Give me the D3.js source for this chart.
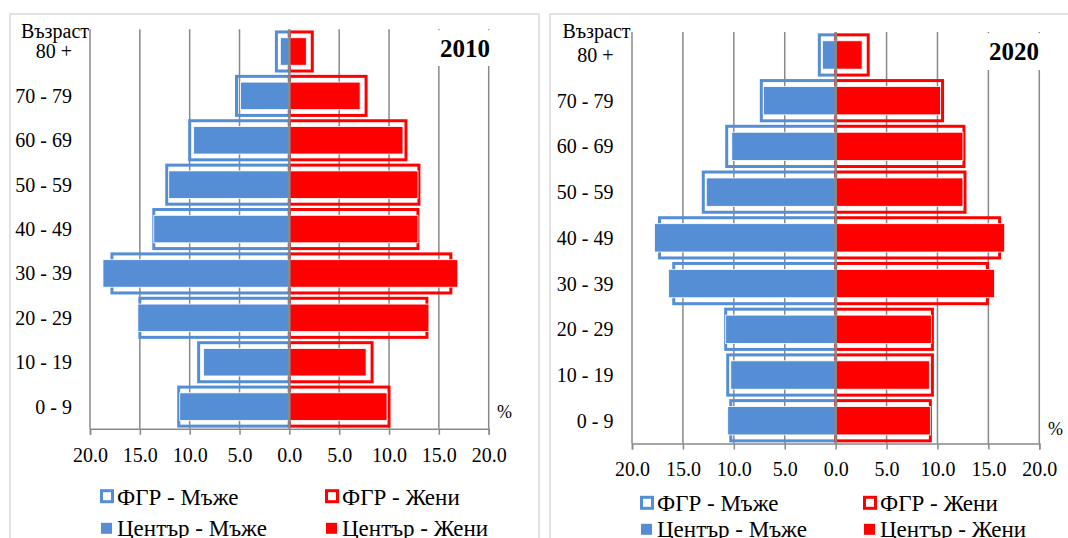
<!DOCTYPE html>
<html>
<head>
<meta charset="utf-8">
<script src="https://cdn.jsdelivr.net/npm/d3@7"></script>
<style>
  body { margin: 0; background: #fff; }
  svg { font-family: "Liberation Serif", "Times New Roman", serif; }
</style>
</head>
<body>
<svg id="chart" width="1068" height="538"></svg>
<script>
// age groups, bottom to top
const ages = ['0 - 9', '10 - 19', '20 - 29', '30 - 39', '40 - 49', '50 - 59', '60 - 69', '70 - 79', '80 +'];
const ticks = [-20, -15, -10, -5, 0, 5, 10, 15, 20];

const frgMen2010 = [11.1, 9.1, 15.0, 17.8, 13.6, 12.3, 10.0, 5.3, 1.3];
const frgWomen2010 = [10.0, 8.3, 13.8, 16.2, 12.9, 13.0, 11.7, 7.7, 2.3];
const centerMen2010 = [11.0, 8.6, 15.2, 18.7, 13.6, 12.1, 9.6, 4.9, 0.9];
const centerWomen2010 = [9.8, 7.7, 14.0, 16.9, 12.9, 12.9, 11.4, 7.1, 1.7];

const frgMen2020 = [10.3, 10.6, 10.8, 15.9, 17.3, 13.0, 10.7, 7.3, 1.6];
const frgWomen2020 = [9.3, 9.5, 9.5, 14.9, 16.1, 12.7, 12.6, 10.5, 3.2];
const centerMen2020 = [10.6, 10.3, 10.8, 16.4, 17.8, 12.7, 10.2, 7.1, 1.3];
const centerWomen2020 = [9.3, 9.2, 9.4, 15.6, 16.6, 12.5, 12.5, 10.3, 2.6];

const legendLabels = ['ФГР - Мъже', 'ФГР - Жени', 'Център - Мъже', 'Център - Жени'];

const blue = '#558ed5';
const red = '#ff0000';
const grid = '#898989';

const svg = d3.select('#chart');

function pyramid (opts) {
  const g = svg.append('g');

  // panel frame
  g.append('rect')
    .attr('x', opts.frame[0]).attr('y', 14)
    .attr('width', opts.frame[1] - opts.frame[0]).attr('height', 540)
    .attr('fill', '#fff').attr('stroke', '#d9d9d9').attr('stroke-width', 1.5);

  const x = d3.scaleLinear().domain([-20, 20]).range([opts.x0, opts.x1]);
  const y = d3.scaleBand().domain(ages).range([opts.y1, opts.y0]);
  const bw = y.bandwidth();

  // gridlines
  g.selectAll('.grid')
      .data(ticks.filter(t => t !== 0))
    .enter().append('line')
      .attr('x1', d => x(d)).attr('x2', d => x(d))
      .attr('y1', opts.y0).attr('y2', opts.y1)
      .attr('stroke', grid).attr('stroke-width', 1.5);

  const rows = ages.map((a, i) => ({
    age: a,
    frgM: opts.frgMen[i], frgW: opts.frgWomen[i],
    cM: opts.centerMen[i], cW: opts.centerWomen[i]
  }));

  // ФГР outlines
  const oh = bw * 0.88;
  g.selectAll('.frgM').data(rows).enter().append('rect')
    .attr('x', d => x(-d.frgM)).attr('width', d => x(0) - x(-d.frgM))
    .attr('y', d => y(d.age) + (bw - oh) / 2).attr('height', oh)
    .attr('fill', 'none').attr('stroke', blue).attr('stroke-width', 3);
  g.selectAll('.frgW').data(rows).enter().append('rect')
    .attr('x', x(0)).attr('width', d => x(d.frgW) - x(0))
    .attr('y', d => y(d.age) + (bw - oh) / 2).attr('height', oh)
    .attr('fill', 'none').attr('stroke', red).attr('stroke-width', 3);

  // Център filled bars
  const fh = bw * 0.62;
  g.selectAll('.cM').data(rows).enter().append('rect')
    .attr('x', d => x(-d.cM)).attr('width', d => x(0) - x(-d.cM))
    .attr('y', d => y(d.age) + (bw - fh) / 2).attr('height', fh)
    .attr('fill', blue).attr('stroke', '#fff').attr('stroke-width', 0.8);
  g.selectAll('.cW').data(rows).enter().append('rect')
    .attr('x', x(0)).attr('width', d => x(d.cW) - x(0))
    .attr('y', d => y(d.age) + (bw - fh) / 2).attr('height', fh)
    .attr('fill', red).attr('stroke', '#fff').attr('stroke-width', 0.8);

  // centre axis
  g.append('line')
    .attr('x1', x(0)).attr('x2', x(0)).attr('y1', opts.y0).attr('y2', opts.y1)
    .attr('stroke', grid).attr('stroke-width', 2.5);

  // bottom axis
  const axis = g.append('g')
    .attr('transform', `translate(0,${opts.y1})`)
    .call(d3.axisBottom(x).tickValues(ticks).tickSize(6)
      .tickFormat(d => Math.abs(d).toFixed(1)));
  axis.select('.domain').attr('stroke', grid).attr('stroke-width', 1.5);
  axis.selectAll('.tick line').attr('stroke', grid).attr('stroke-width', 1.5);
  axis.selectAll('.tick text')
    .attr('y', opts.tickY - opts.y1).attr('dy', 0)
    .attr('fill', '#000').style('font-size', '20px')
    .style('font-family', '"Liberation Serif", serif');

  // age labels
  g.selectAll('.age').data(ages).enter().append('text')
    .attr('x', opts.labelX).attr('y', d => y(d) + bw / 2 + 7)
    .attr('text-anchor', 'end').style('font-size', '20px')
    .text(d => d);

  g.append('text')
    .attr('x', opts.labelX + 17).attr('y', 38)
    .attr('text-anchor', 'end').style('font-size', '20px')
    .text('Възраст');

  // year title on white box
  g.append('rect')
    .attr('x', x(14.5)).attr('y', opts.y0 + 1)
    .attr('width', x(20) - x(14.5) + 4).attr('height', opts.titleBottom - opts.y0 - 1)
    .attr('fill', '#fff');
  g.append('text')
    .attr('x', opts.titleX).attr('y', opts.titleY)
    .attr('text-anchor', 'middle')
    .style('font-size', '25px').style('font-weight', 'bold')
    .text(opts.year);

  g.append('text')
    .attr('x', opts.pctX).attr('y', opts.pctY)
    .style('font-size', '18px')
    .text('%');

  // legend
  const lx = opts.legendX;
  const items = [
    {label: legendLabels[0], color: blue, filled: false, x: lx[0], y: opts.legendY[0]},
    {label: legendLabels[1], color: red, filled: false, x: lx[1], y: opts.legendY[0]},
    {label: legendLabels[2], color: blue, filled: true, x: lx[0], y: opts.legendY[1]},
    {label: legendLabels[3], color: red, filled: true, x: lx[1], y: opts.legendY[1]}
  ];
  const li = g.selectAll('.leg').data(items).enter().append('g')
    .attr('transform', d => `translate(${d.x},${d.y})`);
  li.append('rect')
    .attr('x', d => d.filled ? 1 : 1.5).attr('y', d => d.filled ? -5.5 : -6)
    .attr('width', 11).attr('height', 11)
    .attr('fill', d => d.filled ? d.color : '#fff')
    .attr('stroke', d => d.filled ? 'none' : d.color)
    .attr('stroke-width', 3);
  li.append('text')
    .attr('x', 17).attr('y', 8)
    .style('font-size', '23px')
    .text(d => d.label);
}

pyramid({
  year: '2010',
  frame: [10, 539],
  x0: 90, x1: 488.7, y0: 29.3, y1: 428.8,
  frgMen: frgMen2010, frgWomen: frgWomen2010,
  centerMen: centerMen2010, centerWomen: centerWomen2010,
  tickY: 462, labelX: 72,
  titleX: 465, titleY: 57, titleBottom: 66,
  pctX: 497, pctY: 418,
  legendX: [100, 325], legendY: [496.7, 528.3]
});

pyramid({
  year: '2020',
  frame: [550, 1075],
  x0: 632, x1: 1039.3, y0: 32.1, y1: 443.6,
  frgMen: frgMen2020, frgWomen: frgWomen2020,
  centerMen: centerMen2020, centerWomen: centerWomen2020,
  tickY: 476, labelX: 613.5,
  titleX: 1014, titleY: 60, titleBottom: 70,
  pctX: 1048, pctY: 435,
  legendX: [640, 863], legendY: [503.3, 529.3]
});
</script>
</body>
</html>
